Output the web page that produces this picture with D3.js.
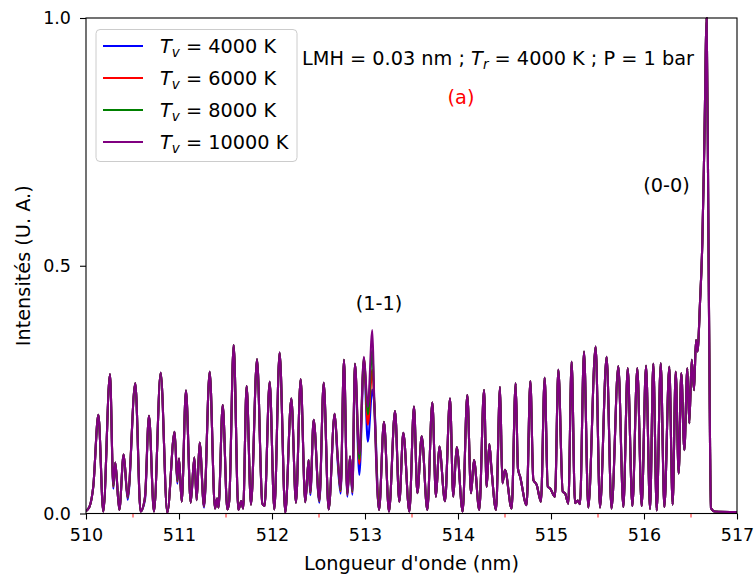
<!DOCTYPE html>
<html>
<head>
<meta charset="utf-8">
<script src="https://cdn.jsdelivr.net/npm/d3@7"></script>
<style>
  html, body { margin: 0; padding: 0; background: #fff; }
  svg { display: block; }
  text { font-family: "DejaVu Sans", sans-serif; }
</style>
</head>
<body>
<svg id="chart" width="756" height="577"></svg>
<script>
// ---------------- DATA ----------------
const wavelengths = [
  510.000,510.040,510.078,510.133,510.186,510.258,510.294,510.315,510.358,510.405,
  510.448,510.530,510.587,510.634,510.677,510.731,510.803,510.874,510.953,510.982,
  511.000,511.029,511.075,511.126,511.165,511.190,511.222,511.269,511.330,511.387,
  511.410,511.425,511.470,511.520,511.540,511.588,511.638,511.670,511.690,511.727,
  511.774,511.839,511.896,511.920,511.975,512.025,512.082,512.143,512.208,512.258,
  512.308,512.358,512.394,512.412,512.448,512.509,512.556,512.609,512.674,512.706,
  512.738,512.774,512.810,512.839,512.864,512.892,512.939,512.989,513.030,513.079,
  513.100,513.151,513.204,513.258,513.323,513.369,513.412,513.477,513.527,513.563,
  513.610,513.670,513.724,513.763,513.799,513.860,513.914,513.949,513.986,514.050,
  514.100,514.140,514.172,514.229,514.280,514.308,514.337,514.360,514.409,514.452,
  514.477,514.505,514.577,514.620,514.645,514.667,514.738,514.778,514.810,514.846,
  514.892,514.932,514.965,514.989,515.043,515.079,515.126,515.151,515.186,515.222,
  515.258,515.287,515.312,515.355,515.401,515.480,515.527,515.598,515.651,515.724,
  515.778,515.825,515.875,515.928,515.975,516.022,516.065,516.100,516.137,516.180,
  516.219,516.272,516.308,516.341,516.373,516.401,516.434,516.466,516.487,516.513,
  516.538,516.559,516.575,516.602,516.627,516.649,516.674,516.691,516.710,516.720,
  516.760,517.000
];

const tv10000 = [
  .005,.015,.054,.199,.004,.281,.058,.103,.007,.119,
  .034,.263,.004,.034,.197,.004,.284,.002,.165,.068,
  .111,.024,.248,.022,.113,.027,.143,.015,.286,.010,
  .030,.012,.219,.008,.025,.340,.007,.025,.010,.257,
  .018,.311,.020,.015,.266,.008,.325,.002,.232,.022,
  .271,.023,.108,.044,.189,.027,.264,.008,.201,.118,
  .049,.310,.041,.115,.047,.302,.120,.316,.215,.370,
  .225,.007,.185,.004,.207,.024,.163,.004,.216,.041,
  .156,.007,.224,.034,.135,.025,.232,.034,.134,.004,
  .239,.041,.108,.007,.249,.054,.140,.090,.007,.255,
  .061,.088,.010,.263,.090,.075,.017,.267,.068,.058,
  .024,.274,.054,.051,.034,.290,.044,.041,.020,.306,
  .021,.026,.019,.327,.012,.337,.012,.316,.010,.297,
  .013,.293,.015,.293,.015,.298,.009,.302,.006,.303,
  .013,.296,.018,.286,.081,.283,.128,.293,.182,.310,
  .249,.350,.327,.424,.546,.748,1.000,.612,.142,.011,
  .004,.003
];

const tv8000 = [
  .005,.015,.054,.199,.004,.281,.056,.103,.007,.119,
  .033,.263,.004,.033,.197,.004,.284,.002,.165,.066,
  .111,.024,.248,.022,.113,.027,.143,.015,.286,.010,
  .030,.012,.219,.008,.025,.340,.007,.025,.010,.257,
  .018,.311,.020,.015,.266,.008,.325,.002,.232,.022,
  .271,.023,.108,.043,.189,.026,.264,.008,.201,.115,
  .047,.310,.040,.115,.045,.302,.110,.314,.200,.330,
  .224,.007,.185,.004,.207,.024,.163,.004,.216,.041,
  .156,.007,.224,.034,.135,.025,.232,.034,.134,.004,
  .239,.041,.108,.007,.249,.054,.140,.090,.007,.255,
  .061,.088,.010,.263,.090,.075,.017,.267,.068,.058,
  .024,.274,.054,.051,.034,.290,.044,.041,.020,.306,
  .021,.026,.019,.327,.012,.337,.012,.316,.010,.297,
  .013,.293,.015,.293,.015,.298,.009,.302,.006,.303,
  .013,.296,.018,.286,.081,.283,.128,.293,.182,.310,
  .249,.350,.327,.424,.546,.748,1.000,.612,.142,.011,
  .004,.003
];

const tv6000 = [
  .005,.015,.054,.199,.004,.281,.054,.103,.007,.119,
  .032,.263,.004,.031,.197,.004,.284,.002,.165,.064,
  .111,.024,.248,.022,.113,.027,.143,.014,.286,.010,
  .030,.012,.219,.008,.025,.340,.007,.025,.010,.257,
  .018,.311,.020,.015,.266,.008,.325,.002,.232,.022,
  .271,.023,.108,.041,.189,.025,.264,.008,.201,.112,
  .045,.310,.038,.115,.043,.302,.100,.312,.179,.290,
  .223,.007,.185,.004,.207,.024,.163,.004,.216,.041,
  .156,.007,.224,.034,.135,.025,.232,.034,.134,.004,
  .239,.041,.108,.007,.249,.054,.140,.090,.007,.255,
  .061,.088,.010,.263,.090,.075,.017,.267,.068,.058,
  .024,.274,.054,.051,.034,.290,.044,.041,.020,.306,
  .021,.026,.019,.327,.012,.337,.012,.316,.010,.297,
  .013,.293,.015,.293,.015,.298,.009,.302,.006,.303,
  .013,.296,.018,.286,.081,.283,.128,.293,.182,.310,
  .249,.350,.327,.424,.546,.748,1.000,.612,.142,.011,
  .004,.003
];

const tv4000 = [
  .005,.015,.054,.199,.004,.281,.050,.103,.007,.119,
  .028,.263,.004,.027,.197,.004,.284,.002,.165,.060,
  .111,.024,.248,.022,.113,.027,.143,.012,.286,.010,
  .030,.012,.219,.008,.025,.340,.007,.025,.010,.257,
  .018,.311,.020,.015,.266,.008,.325,.002,.232,.022,
  .271,.023,.108,.037,.189,.022,.264,.008,.201,.105,
  .040,.310,.034,.115,.038,.302,.078,.308,.145,.250,
  .222,.007,.185,.004,.207,.024,.163,.004,.216,.041,
  .156,.007,.224,.034,.135,.025,.232,.034,.134,.004,
  .239,.041,.108,.007,.249,.054,.140,.090,.007,.255,
  .061,.088,.010,.263,.090,.075,.017,.267,.068,.058,
  .024,.274,.054,.051,.034,.290,.044,.041,.020,.306,
  .021,.026,.019,.327,.012,.337,.012,.316,.010,.297,
  .013,.293,.015,.293,.015,.298,.009,.302,.006,.303,
  .013,.296,.018,.286,.081,.283,.128,.293,.182,.310,
  .249,.350,.327,.424,.546,.748,1.000,.612,.142,.011,
  .004,.003
];

const seriesNames = ["4000", "6000", "8000", "10000"];
const seriesColors = ["#0000ff", "#ff0000", "#008000", "#800080"];
const seriesValues = [tv4000, tv6000, tv8000, tv10000];

const xMajorTicks = [510, 511, 512, 513, 514, 515, 516, 517];
const xMinorTicks = [510.5, 511.5, 512.5, 513.5, 514.5, 515.5, 516.5];
const yTicks = [0, 0.5, 1.0];

// ---------------- CHART ----------------
const FS = 19.3;      // labels, legend, annotations
const FS_TICK = 17.5; // tick labels
const svg = d3.select("#chart");
const pLeft = 86, pRight = 737, pTop = 18, pBottom = 513.5;

const x = d3.scaleLinear().domain([510, 517]).range([pLeft, pRight]);
const y = d3.scaleLinear().domain([0, 1]).range([pBottom, pTop]);

svg.append("defs").append("clipPath").attr("id", "clip")
  .append("rect").attr("x", pLeft).attr("y", pTop - 1)
  .attr("width", pRight - pLeft).attr("height", pBottom - pTop + 1);

// lines
const line = d3.line()
  .x((d, i) => x(wavelengths[i]))
  .y(d => y(d))
  .curve(d3.curveMonotoneX);

const gLines = svg.append("g").attr("clip-path", "url(#clip)");
seriesValues.forEach((vals, k) => {
  gLines.append("path")
    .datum(vals)
    .attr("d", line)
    .attr("fill", "none")
    .attr("stroke", seriesColors[k])
    .attr("stroke-width", 2.1)
    .attr("stroke-linejoin", "round");
});

// axes
const xAxis = d3.axisBottom(x).tickValues(xMajorTicks).tickFormat(d3.format("d"))
  .tickSize(6).tickPadding(9);
const gx = svg.append("g").attr("transform", `translate(0,${pBottom})`).call(xAxis);
gx.select(".domain").remove();
gx.selectAll("text").attr("font-size", FS_TICK).attr("font-family", "DejaVu Sans").attr("fill", "#000");
gx.selectAll("line").attr("stroke", "#000").attr("stroke-width", 1.1);

const xMinor = d3.axisBottom(x).tickValues(xMinorTicks).tickFormat("").tickSize(4);
const gxm = svg.append("g").attr("transform", `translate(0,${pBottom})`).call(xMinor);
gxm.select(".domain").remove();
gxm.selectAll("line").attr("stroke", "#ff0000").attr("stroke-width", 0.9);

const yAxis = d3.axisLeft(y).tickValues(yTicks).tickFormat(d3.format(".1f"))
  .tickSize(6).tickPadding(9);
const gy = svg.append("g").attr("transform", `translate(${pLeft},0)`).call(yAxis);
gy.select(".domain").remove();
gy.selectAll("text").attr("font-size", FS_TICK).attr("font-family", "DejaVu Sans").attr("fill", "#000");
gy.selectAll("line").attr("stroke", "#000").attr("stroke-width", 1.1);

// frame
svg.append("rect")
  .attr("x", pLeft).attr("y", pTop)
  .attr("width", pRight - pLeft).attr("height", pBottom - pTop)
  .attr("fill", "none").attr("stroke", "#000").attr("stroke-width", 1.1);

// axis labels
svg.append("text")
  .attr("x", (pLeft + pRight) / 2).attr("y", 570)
  .attr("text-anchor", "middle").attr("font-size", FS)
  .text("Longueur d'onde (nm)");

svg.append("text")
  .attr("transform", `translate(30,${(pTop + pBottom) / 2}) rotate(-90)`)
  .attr("text-anchor", "middle").attr("font-size", FS)
  .text("Intensités (U. A.)");

// annotations
const ann = svg.append("text").attr("x", 302).attr("y", 64.5).attr("font-size", FS);
ann.append("tspan").text("LMH = 0.03 nm ; ");
ann.append("tspan").attr("font-style", "italic").text("T");
ann.append("tspan").attr("font-style", "italic").attr("font-size", FS * 0.7).attr("dy", 4).text("r");
ann.append("tspan").attr("dy", -4).text(" = 4000 K ; P = 1 bar");

svg.append("text").attr("x", 461).attr("y", 104).attr("text-anchor", "middle")
  .attr("font-size", FS).attr("fill", "#ff0000").text("(a)");

svg.append("text").attr("x", 379).attr("y", 310).attr("text-anchor", "middle")
  .attr("font-size", FS).text("(1-1)");

svg.append("text").attr("x", 666.5).attr("y", 192).attr("text-anchor", "middle")
  .attr("font-size", FS).text("(0-0)");

// legend
const lg = svg.append("g");
lg.append("rect")
  .attr("x", 96).attr("y", 29.5).attr("width", 201).attr("height", 132)
  .attr("rx", 4).attr("ry", 4)
  .attr("fill", "#fff").attr("fill-opacity", 0.85)
  .attr("stroke", "#cccccc").attr("stroke-width", 1);

seriesNames.forEach((name, k) => {
  const ly = 46 + k * 32;
  lg.append("line")
    .attr("x1", 103).attr("x2", 143).attr("y1", ly).attr("y2", ly)
    .attr("stroke", seriesColors[k]).attr("stroke-width", 1.8);
  const t = lg.append("text").attr("x", 160).attr("y", ly + 6.5).attr("font-size", FS);
  t.append("tspan").attr("font-style", "italic").text("T");
  t.append("tspan").attr("font-style", "italic").attr("font-size", FS * 0.7).attr("dy", 4).text("v");
  t.append("tspan").attr("dy", -4).text(" = " + name + " K");
});
</script>
</body>
</html>
